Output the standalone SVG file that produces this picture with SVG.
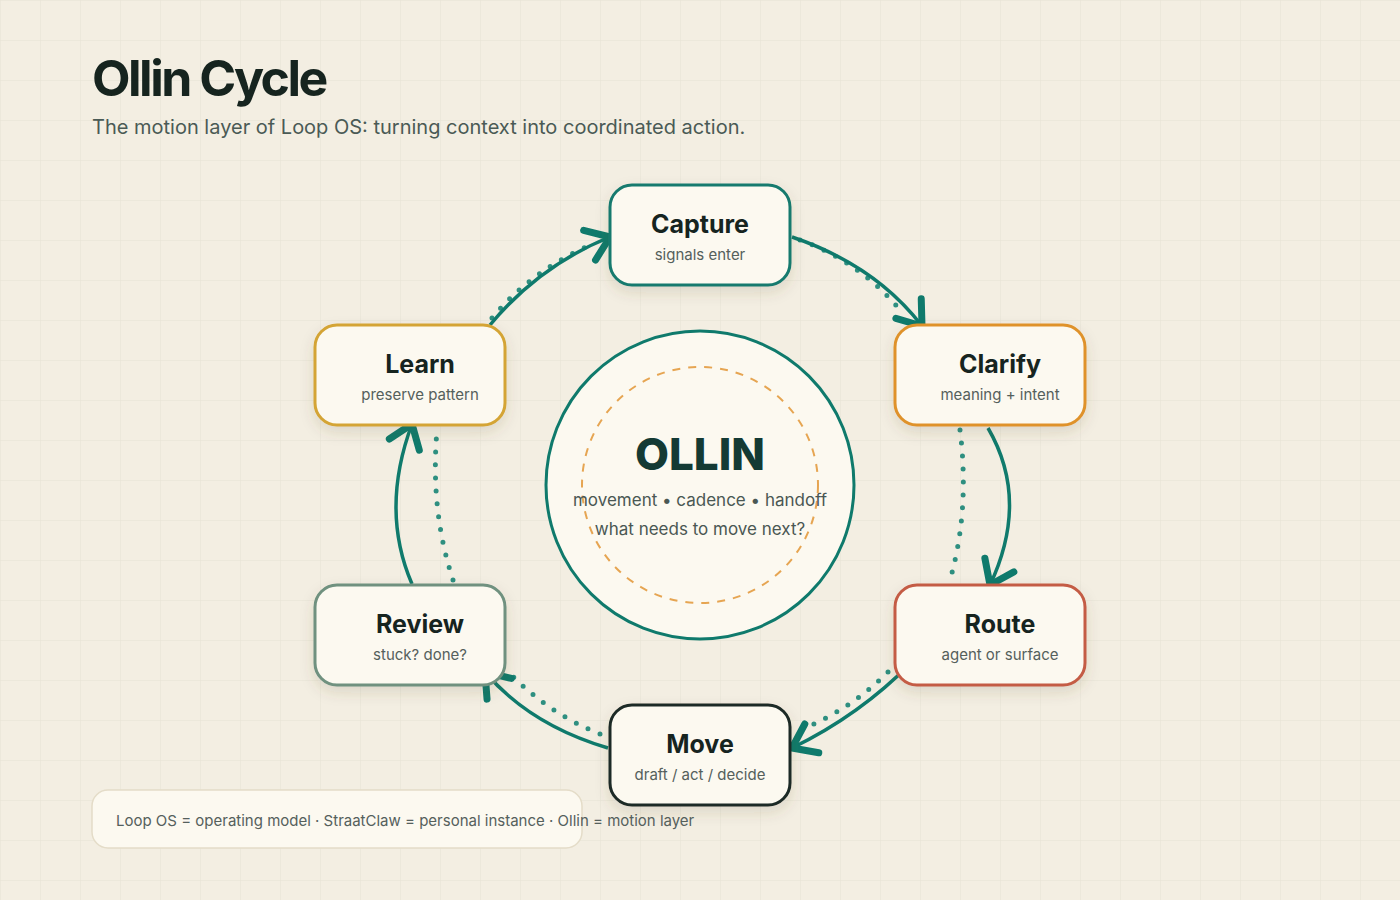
<svg xmlns="http://www.w3.org/2000/svg" width="1400" height="900" viewBox="0 0 1400 900">
<defs>
<pattern id="grid" width="40" height="40" patternUnits="userSpaceOnUse"><path d="M40 0H0V40" fill="none" stroke="#e6e1d4" stroke-width="1"/></pattern>
<marker id="ah" markerUnits="userSpaceOnUse" markerWidth="60" markerHeight="60" refX="30" refY="30" orient="auto" viewBox="0 0 60 30" overflow="visible">
<path d="M8 14 L30 30 L8 46" fill="none" stroke="#0f7a6c" stroke-width="7" stroke-linecap="round" stroke-linejoin="round"/>
</marker>
<filter id="sh" x="-20%" y="-20%" width="140%" height="150%"><feDropShadow dx="0" dy="6" stdDeviation="7" flood-color="#5a4a30" flood-opacity="0.15"/></filter>
</defs>
<style>
.t{font-family:Inter,"Noto Sans",sans-serif;fill:#16241f;font-weight:700;font-size:25px;text-anchor:middle}
.s{font-family:Inter,"Noto Sans",sans-serif;fill:#55605c;font-size:15px;text-anchor:middle}
.n{fill:#fcf9f0;stroke-width:3;filter:url(#sh)}
.a{fill:none;stroke:#0f7a6c;stroke-width:3.5;marker-end:url(#ah)}
.d{fill:none;stroke:#2e8f80;stroke-width:5;stroke-dasharray:0 13;stroke-linecap:round}
</style>
<rect width="1400" height="900" fill="#f3eee2"/>
<rect width="1400" height="900" fill="url(#grid)"/>
<text x="92" y="96" font-family="Inter,'Noto Sans',sans-serif" font-weight="700" font-size="50" letter-spacing="-2.5" fill="#16241f">Ollin Cycle</text>
<text x="92" y="134" font-family="Inter,'Noto Sans',sans-serif" font-size="20" fill="#4a5a55">The motion layer of Loop OS: turning context into coordinated action.</text>
<g id="connectors">
<path class="d" d="M492 318 Q530 272 590 245"/>
<path class="d" d="M800 240 Q860 262 900 310"/>
<path class="d" d="M960 430 Q970 510 950 580"/>
<path class="d" d="M888 672 Q850 710 800 730"/>
<path class="d" d="M600 734 Q545 712 505 668"/>
<path class="d" d="M453 580 Q430 510 437 430"/>
<path class="a" d="M490 325 Q540 265 610 237"/>
<path class="a" d="M792 237 Q875 265 922 326"/>
<path class="a" d="M988 428 Q1030 500 990 585"/>
<path class="a" d="M912 662 Q860 715 792 748"/>
<path class="a" d="M608 748 Q530 725 485 672"/>
<path class="a" d="M412 584 Q380 510 412 424"/>
</g>
<g id="center">
<circle cx="700" cy="485" r="154" fill="#fcf9f0" stroke="#0f7a6c" stroke-width="3"/>
<circle cx="700" cy="485" r="118" fill="none" stroke="#e6a552" stroke-width="2" stroke-dasharray="8 8"/>
<text x="700" y="470" font-family="Inter,'Noto Sans',sans-serif" font-weight="800" font-size="44" fill="#143a34" text-anchor="middle">OLLIN</text>
<text x="700" y="506" font-family="Inter,'Noto Sans',sans-serif" font-size="17" fill="#4a5753" text-anchor="middle">movement • cadence • handoff</text>
<text x="700" y="535" font-family="Inter,'Noto Sans',sans-serif" font-size="17" fill="#4a5753" text-anchor="middle">what needs to move next?</text>
</g>
<g id="capture"><rect class="n" x="610" y="185" width="180" height="100" rx="22" stroke="#157a6e"/><text class="t" x="700" y="233">Capture</text><text class="s" x="700" y="260">signals enter</text></g>
<g id="clarify"><rect class="n" x="895" y="325" width="190" height="100" rx="22" stroke="#df922c"/><text class="t" x="1000" y="373">Clarify</text><text class="s" x="1000" y="400">meaning + intent</text></g>
<g id="route"><rect class="n" x="895" y="585" width="190" height="100" rx="22" stroke="#c45c45"/><text class="t" x="1000" y="633">Route</text><text class="s" x="1000" y="660">agent or surface</text></g>
<g id="move"><rect class="n" x="610" y="705" width="180" height="100" rx="22" stroke="#1c2a26"/><text class="t" x="700" y="753">Move</text><text class="s" x="700" y="780">draft / act / decide</text></g>
<g id="review"><rect class="n" x="315" y="585" width="190" height="100" rx="22" stroke="#6f917f"/><text class="t" x="420" y="633">Review</text><text class="s" x="420" y="660">stuck? done?</text></g>
<g id="learn"><rect class="n" x="315" y="325" width="190" height="100" rx="22" stroke="#d4a434"/><text class="t" x="420" y="373">Learn</text><text class="s" x="420" y="400">preserve pattern</text></g>
<g id="footer"><rect x="92" y="790" width="490" height="58" rx="16" fill="#fcf9f0" stroke="#e4dcc8" stroke-width="1.5"/><text x="116" y="826" font-family="Inter,'Noto Sans',sans-serif" font-size="15" fill="#55605c">Loop OS = operating model · StraatClaw = personal instance · Ollin = motion layer</text></g>
</svg>
